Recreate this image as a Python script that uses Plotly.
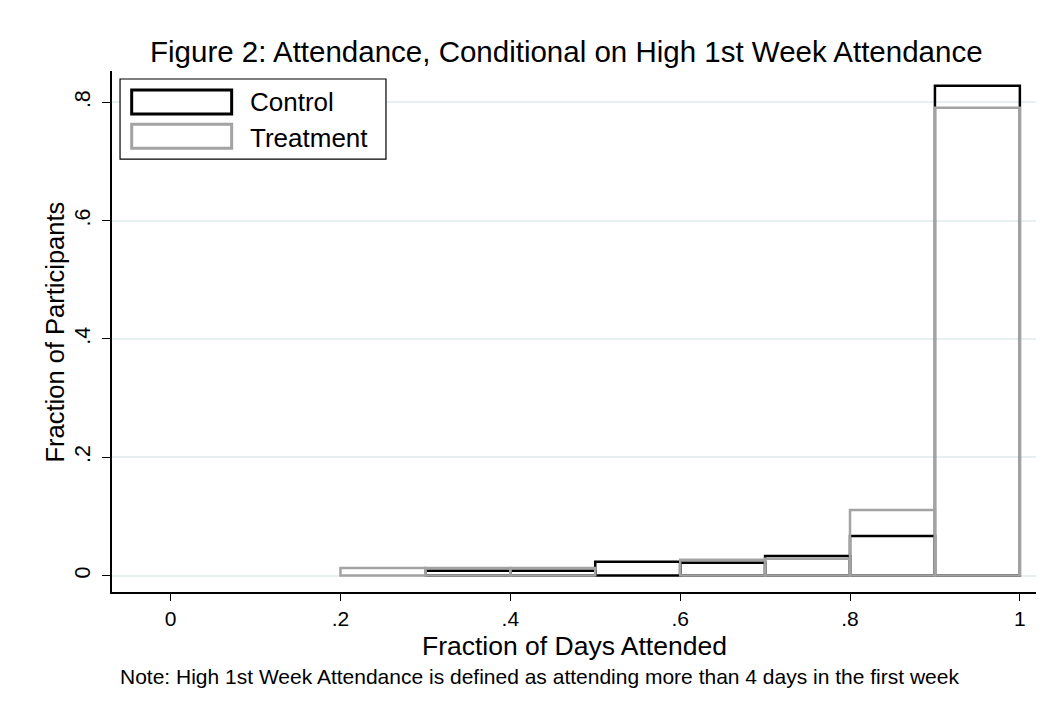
import plotly.graph_objects as go

# histogram bins (left edges 0.2 .. 0.9, width 0.1)
bin_centers = [0.25, 0.35, 0.45, 0.55, 0.65, 0.75, 0.85, 0.95]
control = [None, 0.0084, 0.0084, 0.0236, 0.0216, 0.033, 0.067, 0.828]
treatment = [0.013, 0.013, 0.013, None, 0.027, 0.0286, 0.111, 0.791]

x_ticks = [0, 0.2, 0.4, 0.6, 0.8, 1]
x_ticklabels = ["0", ".2", ".4", ".6", ".8", "1"]
y_ticks = [0, 0.2, 0.4, 0.6, 0.8]
y_ticklabels = ["0", ".2", ".4", ".6", ".8"]

FONT = "Liberation Sans, Arial, sans-serif"
GRAY = "#a3a3a3"

fig = go.Figure()
fig.add_trace(go.Bar(
    x=bin_centers, y=control, width=0.1, name="Control",
    marker=dict(color="rgba(0,0,0,0)", line=dict(color="black", width=2.5)),
))
fig.add_trace(go.Bar(
    x=bin_centers, y=treatment, width=0.1, name="Treatment",
    marker=dict(color="rgba(0,0,0,0)", line=dict(color=GRAY, width=2.5)),
))

# page body adds an 8px offset, so margins are shifted to compensate
fig.update_layout(
    width=1053, height=709,
    barmode="overlay",
    showlegend=False,
    plot_bgcolor="white",
    paper_bgcolor="white",
    margin=dict(l=104, r=25, t=63, b=125),
    font=dict(family=FONT, color="black", size=22),
    xaxis=dict(
        range=[-0.069, 1.019], tickvals=x_ticks, ticktext=x_ticklabels,
        showgrid=False, zeroline=False, showline=True, linecolor="black", linewidth=1.5,
        ticks="outside", ticklen=7, tickcolor="black", ticklabelstandoff=0,
        tickfont=dict(size=21),
    ),
    yaxis=dict(
        range=[-0.0277, 0.853], tickvals=y_ticks, ticktext=y_ticklabels,
        showgrid=True, gridcolor="#e7eff1", gridwidth=2, zeroline=False,
        showline=True, linecolor="black", linewidth=1.5,
        ticks="outside", ticklen=8, tickcolor="black", tickangle=-90,
        ticklabelstandoff=4, tickfont=dict(size=21.5),
    ),
)

annotations = [
    dict(text="Figure 2: Attendance, Conditional on High 1st Week Attendance",
         x=0.4924, y=1.0365, font=dict(size=29.5)),
    dict(text="Fraction of Days Attended", x=0.501, y=-0.103, font=dict(size=26.5)),
    dict(text="Fraction of Participants", x=-0.0617, y=0.5, textangle=-90,
         font=dict(size=25.5)),
    dict(text="Note: High 1st Week Attendance is defined as attending more than 4 days in the first week",
         x=0.4627, y=-0.1625, font=dict(size=21)),
    dict(text="Control", x=0.147, y=0.9405, xanchor="left", font=dict(size=26)),
    dict(text="Treatment", x=0.147, y=0.8714, xanchor="left", font=dict(size=26)),
]
for a in annotations:
    a.setdefault("xanchor", "center")
    fig.add_annotation(xref="paper", yref="paper", yanchor="middle",
                       showarrow=False, **a)

# legend box and swatches
fig.add_shape(type="rect", xref="paper", yref="paper",
              x0=0.0087, x1=0.2965, y0=0.831, y1=0.9846,
              line=dict(color="black", width=1.2), fillcolor="white", layer="above")
fig.add_shape(type="rect", xref="paper", yref="paper",
              x0=0.0213, x1=0.1295, y0=0.9175, y1=0.9635,
              line=dict(color="black", width=3), layer="above")
fig.add_shape(type="rect", xref="paper", yref="paper",
              x0=0.0213, x1=0.1295, y0=0.8516, y1=0.8977,
              line=dict(color=GRAY, width=3), layer="above")

fig.write_html("out.html")
